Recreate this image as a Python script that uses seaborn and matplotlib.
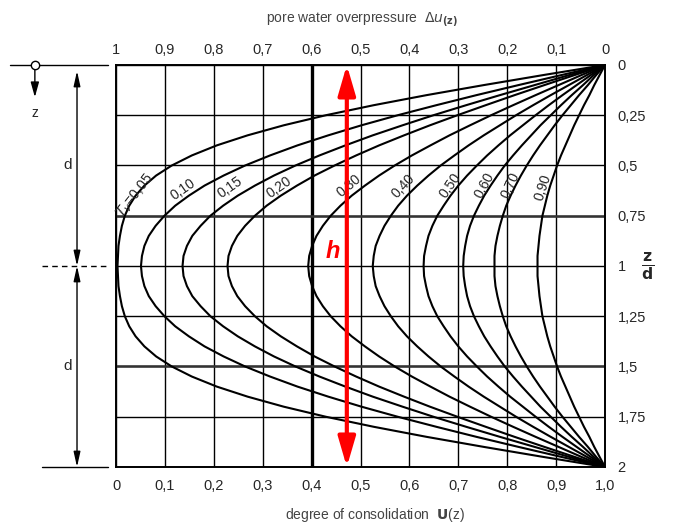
import numpy as np
import pandas as pd
import matplotlib
matplotlib.use("Agg")
import matplotlib.pyplot as plt
import seaborn as sns

# isochrones: degree of consolidation U(z) read at z/d = 0 ... 1 (upper half, chart is symmetric)
z_half = [0.0, 0.05, 0.1, 0.15, 0.2, 0.25, 0.3, 0.35, 0.4, 0.45, 0.5,
          0.55, 0.6, 0.65, 0.7, 0.75, 0.8, 0.85, 0.9, 0.95, 1.0]
tv_values = [0.05, 0.10, 0.15, 0.20, 0.30, 0.40, 0.50, 0.60, 0.70, 0.90]
U_005 = [1.0, 0.874, 0.752, 0.635, 0.527, 0.429, 0.343, 0.269, 0.206, 0.155, 0.114,
         0.082, 0.058, 0.040, 0.027, 0.018, 0.012, 0.008, 0.005, 0.004, 0.003]
U_010 = [1.0, 0.911, 0.823, 0.737, 0.655, 0.576, 0.502, 0.434, 0.371, 0.315, 0.264,
         0.220, 0.181, 0.149, 0.121, 0.099, 0.081, 0.067, 0.058, 0.053, 0.051]
U_015 = [1.0, 0.927, 0.856, 0.785, 0.716, 0.649, 0.586, 0.525, 0.469, 0.416, 0.367,
         0.323, 0.284, 0.249, 0.219, 0.193, 0.173, 0.156, 0.145, 0.138, 0.136]
U_020 = [1.0, 0.938, 0.876, 0.815, 0.756, 0.698, 0.642, 0.589, 0.538, 0.491, 0.447,
         0.406, 0.370, 0.337, 0.308, 0.284, 0.264, 0.248, 0.237, 0.230, 0.228]
U_030 = [1.0, 0.952, 0.905, 0.858, 0.812, 0.767, 0.724, 0.682, 0.643, 0.605, 0.570,
         0.538, 0.509, 0.482, 0.459, 0.439, 0.423, 0.410, 0.401, 0.395, 0.393]
U_040 = [1.0, 0.963, 0.926, 0.889, 0.853, 0.818, 0.785, 0.752, 0.721, 0.692, 0.664,
         0.639, 0.616, 0.595, 0.577, 0.562, 0.549, 0.539, 0.531, 0.527, 0.525]
U_050 = [1.0, 0.971, 0.942, 0.913, 0.885, 0.858, 0.832, 0.806, 0.782, 0.759, 0.738,
         0.718, 0.700, 0.684, 0.670, 0.657, 0.647, 0.639, 0.634, 0.630, 0.629]
U_060 = [1.0, 0.977, 0.955, 0.932, 0.910, 0.889, 0.868, 0.849, 0.830, 0.812, 0.795,
         0.780, 0.766, 0.753, 0.742, 0.732, 0.724, 0.718, 0.714, 0.711, 0.710]
U_070 = [1.0, 0.982, 0.965, 0.947, 0.930, 0.913, 0.897, 0.882, 0.867, 0.853, 0.840,
         0.828, 0.817, 0.807, 0.798, 0.791, 0.785, 0.780, 0.776, 0.774, 0.774]
U_090 = [1.0, 0.989, 0.978, 0.968, 0.957, 0.947, 0.937, 0.928, 0.919, 0.910, 0.902,
         0.895, 0.888, 0.882, 0.877, 0.872, 0.869, 0.866, 0.864, 0.862, 0.862]
curve_labels = ["$T_v$=0,05", "0,10", "0,15", "0,20", "0,30", "0,40", "0,50", "0,60", "0,70", "0,90"]

# tick labels
bottom_ticks = ["0", "0,1", "0,2", "0,3", "0,4", "0,5", "0,6", "0,7", "0,8", "0,9", "1,0"]
top_ticks = ["1", "0,9", "0,8", "0,7", "0,6", "0,5", "0,4", "0,3", "0,2", "0,1", "0"]
right_ticks = ["0", "0,25", "0,5", "0,75", "1", "1,25", "1,5", "1,75", "2"]

h_position = 0.472  # red marker line (U)

# label placement (U, z/d, rotation)
label_pos = [(0.040, 0.65, 52), (0.137, 0.62, 35), (0.233, 0.61, 35), (0.333, 0.61, 35),
             (0.476, 0.60, 40), (0.587, 0.60, 47), (0.683, 0.60, 55), (0.753, 0.60, 62),
             (0.806, 0.60, 66), (0.873, 0.61, 72)]

curves = [U_005, U_010, U_015, U_020, U_030, U_040, U_050, U_060, U_070, U_090]
rows = []
for t, u in zip(tv_values, curves):
    z_full = z_half + [2 - z for z in z_half[-2::-1]]
    u_full = u + u[-2::-1]
    for zz, uu in zip(z_full, u_full):
        rows.append({"Tv": t, "U": uu, "z": zz})
df = pd.DataFrame(rows)

sns.set_style("white")
plt.rcParams["font.family"] = ["Liberation Sans", "DejaVu Sans"]

fig = plt.figure(figsize=(6.75, 5.25), dpi=100)
ax = fig.add_axes([0.1719, 0.1105, 0.7244, 0.7657])

sns.lineplot(data=df, x="U", y="z", units="Tv", estimator=None, sort=False,
             color="black", linewidth=1.5, ax=ax, legend=False)

ax.set_xlim(0, 1)
ax.set_ylim(2, 0)
ax.set_xticks(np.linspace(0, 1, 11))
ax.set_xticklabels(bottom_ticks, fontsize=10.5)
ax.set_yticks(np.linspace(0, 2, 9))
ax.set_yticklabels(right_ticks, fontsize=10.5)
ax.yaxis.tick_right()
ax.tick_params(axis="x", length=0, pad=9)
ax.tick_params(axis="y", length=0, pad=9)
ax.grid(True, color="black", linewidth=1.0)
ax.set_axisbelow(True)
ax.set_xlabel("")
ax.set_ylabel("")
for s in ax.spines.values():
    s.set_color("black")
    s.set_linewidth(1.4)
ax.axvline(0.4, color="black", linewidth=2.4, zorder=1)
for zl in (0.75, 1.5):
    ax.axhline(zl, color="#333333", linewidth=1.8, zorder=1)

sec = ax.secondary_xaxis("top", functions=(lambda u: 1 - u, lambda p: 1 - p))
sec.set_xticks(np.linspace(1, 0, 11))
sec.set_xticklabels(top_ticks, fontsize=10.5)
sec.tick_params(length=0, pad=6)
sec.spines["top"].set_visible(False)

for lab, (px, pz, rot) in zip(curve_labels, label_pos):
    ax.text(px, pz, lab, rotation=rot, fontsize=10, ha="center", va="center",
            rotation_mode="anchor")

# red marker h
ax.annotate("", xy=(h_position, 0), xytext=(h_position, 2),
            arrowprops=dict(arrowstyle="<|-|>,head_length=1.2,head_width=0.35",
                            color="#ff0000", lw=3, mutation_scale=15,
                            shrinkA=0, shrinkB=0))
ax.text(0.444, 0.93, "h", color="#ff0000", fontsize=17, fontweight="bold",
        fontstyle="italic", ha="center", va="center")

# left-hand sketch: layer thickness, drainage boundary
ax.plot([-0.217, -0.016], [0, 0], color="black", lw=1.0, clip_on=False)
ax.plot([-0.151, -0.016], [2, 2], color="black", lw=1.0, clip_on=False)
ax.plot([-0.151, -0.016], [1, 1], color="black", lw=1.0, ls=(0, (4, 3)), clip_on=False)
ax.annotate("", xy=(-0.166, 0.16), xytext=(-0.166, 0.02), annotation_clip=False,
            arrowprops=dict(arrowstyle="-|>,head_length=0.9,head_width=0.25",
                            color="black", lw=1.0, mutation_scale=10, shrinkA=0, shrinkB=0))
ax.plot([-0.166], [0], marker="o", markersize=6, markerfacecolor="white",
        markeredgecolor="black", markeredgewidth=1.0, clip_on=False, zorder=5)
ax.text(-0.166, 0.24, "z", fontsize=10, ha="center", va="center")
for z0, z1 in [(0.03, 1), (1, 2)]:
    ax.annotate("", xy=(-0.0798, z0), xytext=(-0.0798, z1), annotation_clip=False,
                arrowprops=dict(arrowstyle="<|-|>,head_length=0.9,head_width=0.2",
                                color="black", lw=1.0, mutation_scale=10,
                                shrinkA=0, shrinkB=0))
    ax.text(-0.100, 0.5 if z0 < 1 else 1.5, "d", fontsize=11, ha="center", va="center")

fig.text(0.536, 0.962, r"pore water overpressure  $\Delta u_{\mathbf{(z)}}$",
         fontsize=10, color="#444444", ha="center", va="center")
fig.text(0.556, 0.019, r"degree of consolidation  $\mathbf{U}$(z)",
         fontsize=10, color="#444444", ha="center", va="center")
fig.text(0.960, 0.493, r"$\frac{\mathbf{z}}{\mathbf{d}}$", fontsize=16,
         ha="center", va="center")

fig.savefig("out.png", dpi=100, facecolor="white")
